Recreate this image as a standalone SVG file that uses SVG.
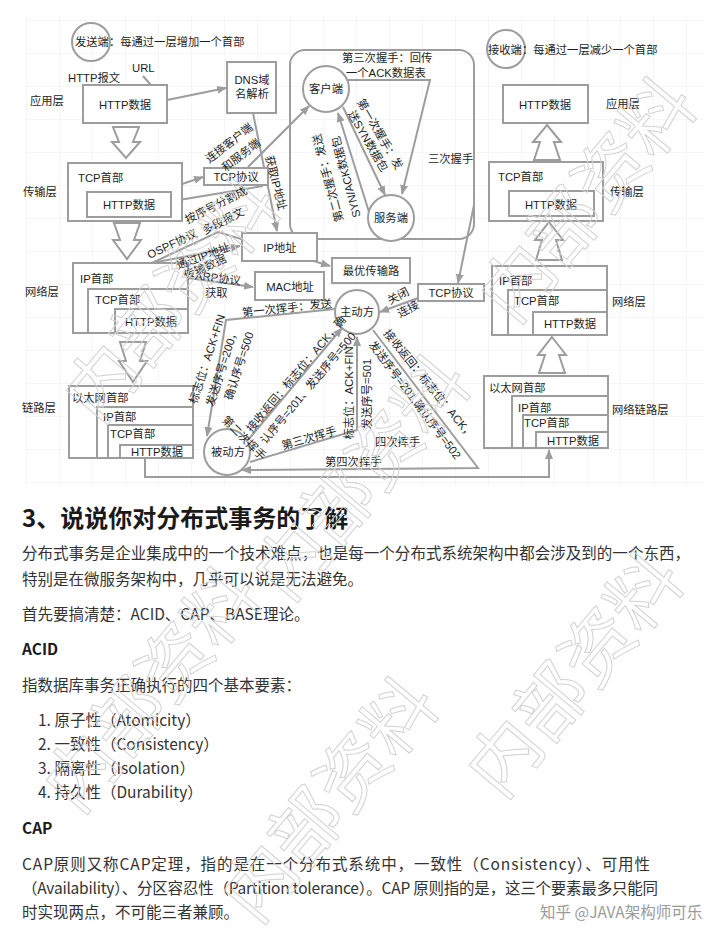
<svg xmlns="http://www.w3.org/2000/svg" width="720" height="941" viewBox="0 0 720 941">
<defs>
<style>
.t{font-family:"Liberation Sans","Noto Sans CJK SC",sans-serif;font-size:11.3px;fill:#1e1e1e}
.box{fill:#fff;stroke:#9d9d9d;stroke-width:2}
.c{fill:none;stroke:#9d9d9d;stroke-width:2}
.ha{fill:#fff;stroke:#9d9d9d;stroke-width:2;stroke-linejoin:miter}
.p{font-family:"Noto Sans CJK SC","Liberation Sans",sans-serif;font-size:15.5px;fill:#333}
.b{font-weight:bold;fill:#1a1a1a}
.wm{font-family:"Noto Sans CJK SC",sans-serif;font-size:72px;fill:none;stroke:#d2d2d2;stroke-width:1}
</style>
<marker id="ah" viewBox="0 0 10 8" refX="9" refY="4" markerWidth="10" markerHeight="8" markerUnits="userSpaceOnUse" orient="auto"><path d="M0,0 L10,4 L0,8 z" fill="#9d9d9d"/></marker>
<pattern id="grid" width="33" height="33" patternUnits="userSpaceOnUse" x="26" y="20"><path d="M33 0 L0 0 0 33" fill="none" stroke="#ededed" stroke-width="1"/></pattern>
</defs>
<rect width="720" height="941" fill="#fff"/>
<rect x="25" y="15" width="680" height="470" fill="url(#grid)"/>

<g id="connectors">
<rect class="c" x="290" y="50" width="184" height="189" rx="15"/>
<polygon class="ha" points="113,127 139,127 133,142 140,142 126,158 112,142 119,142"/>
<polygon class="ha" points="114,223 140,223 134,240 141,240 127,259 113,240 120,240"/>
<polygon class="ha" points="120,342 146,342 140,361 147,361 133,382 119,361 126,361"/>
<polygon class="ha" points="547,125 561,142 554,142 560,160 534,160 540,142 533,142"/>
<polygon class="ha" points="549,222 563,240 556,240 562,260 536,260 542,240 535,240"/>
<polygon class="ha" points="552,337 566,355 559,355 565,373 539,373 545,355 538,355"/>
<path class="c" marker-end="url(#ah)" d="M143 76 L164 100"/>
<path class="c" marker-end="url(#ah)" d="M167 100 L226 88"/>
<path class="c" marker-end="url(#ah)" d="M253 113 L277 231"/>
<path class="c" marker-end="url(#ah)" d="M182 184 L203 177"/>
<path class="c" marker-end="url(#ah)" d="M263 186 L173 201"/>
<path class="c" marker-end="url(#ah)" d="M248 167 L309 106"/>
<path class="c" marker-end="url(#ah)" d="M348 80 L430 80 L402 194"/>
<path class="c" marker-end="url(#ah)" d="M343 107 L385 195"/>
<path class="c" marker-end="url(#ah)" d="M369 212 L338 113"/>
<path class="c" marker-end="url(#ah)" d="M152 263 L218 232 L330 266"/>
<path class="c" marker-end="url(#ah)" d="M152 263 L240 246"/>
<path class="c" marker-end="url(#ah)" d="M188 278 L253 287"/>
<path class="c" marker-end="url(#ah)" d="M474 205 L458 283"/>
<path class="c" marker-end="url(#ah)" d="M418 298 L380 312"/>
<path class="c" marker-end="url(#ah)" d="M335 309 L226 320 L207 436"/>
<path class="c" marker-end="url(#ah)" d="M248 440 L342 328"/>
<path class="c" marker-end="url(#ah)" d="M250 462 L357 430 L357 337"/>
<path class="c" marker-end="url(#ah)" d="M373 330 L478 468 L242 470"/>
<path class="c" marker-end="url(#ah)" d="M145 458 L145 477 L549 477 L549 450"/>
</g>

<g id="sender"><circle cx="91" cy="42" r="19" fill="none" stroke="#9d9d9d" stroke-width="2"/><text class="t" x="75" y="46">发送端：每通过一层增加一个首部</text></g>
<g id="receiver"><circle cx="506" cy="49" r="19" fill="none" stroke="#9d9d9d" stroke-width="2"/><text class="t" x="488" y="54">接收端：每通过一层减少一个首部</text></g>

<g id="labels-left">
<text class="t" x="68" y="82">HTTP报文</text>
<text class="t" x="132" y="72">URL</text>
<text class="t" x="30" y="105">应用层</text>
<text class="t" x="23" y="196">传输层</text>
<text class="t" x="25" y="296">网络层</text>
<text class="t" x="22" y="412">链路层</text>
</g>

<g id="l-app"><rect class="box" x="83" y="85" width="84" height="38"/><text class="t" x="125" y="109" text-anchor="middle">HTTP数据</text></g>
<g id="l-tcp"><rect class="box" x="68" y="163" width="114" height="58"/><text class="t" x="78" y="182">TCP首部</text><rect class="box" x="87" y="192" width="84" height="25"/><text class="t" x="129" y="209" text-anchor="middle">HTTP数据</text></g>
<g id="l-ip"><rect class="box" x="73" y="263" width="115" height="70"/><text class="t" x="80" y="283">IP首部</text><rect class="box" x="88" y="289" width="100" height="44"/><text class="t" x="95" y="304">TCP首部</text><rect class="box" x="115" y="309" width="73" height="24"/><text class="t" x="151" y="326" text-anchor="middle">HTTP数据</text></g>
<g id="l-eth"><rect class="box" x="69" y="386" width="124" height="72"/><text class="t" x="72" y="402">以太网首部</text><rect class="box" x="97" y="407" width="96" height="51"/><text class="t" x="103" y="421">IP首部</text><rect class="box" x="108" y="425" width="85" height="33"/><text class="t" x="110" y="438">TCP首部</text><rect class="box" x="120" y="445" width="73" height="13"/><text class="t" x="131" y="456">HTTP数据</text></g>

<g id="r-app"><rect class="box" x="503" y="85" width="85" height="38"/><text class="t" x="545" y="109" text-anchor="middle">HTTP数据</text><text class="t" x="606" y="108">应用层</text></g>
<g id="r-tcp"><rect class="box" x="489" y="162" width="114" height="59"/><text class="t" x="498" y="181">TCP首部</text><rect class="box" x="509" y="191" width="85" height="25"/><text class="t" x="551" y="209" text-anchor="middle">HTTP数据</text><text class="t" x="610" y="196">传输层</text></g>
<g id="r-ip"><rect class="box" x="492" y="266" width="115" height="69"/><text class="t" x="499" y="285">IP首部</text><rect class="box" x="508" y="290" width="99" height="45"/><text class="t" x="514" y="305">TCP首部</text><rect class="box" x="533" y="312" width="74" height="23"/><text class="t" x="570" y="328" text-anchor="middle">HTTP数据</text><text class="t" x="612" y="306">网络层</text></g>
<g id="r-eth"><rect class="box" x="484" y="376" width="124" height="72"/><text class="t" x="489" y="392">以太网首部</text><rect class="box" x="512" y="396" width="96" height="52"/><text class="t" x="518" y="412">IP首部</text><rect class="box" x="523" y="415" width="85" height="33"/><text class="t" x="524" y="427">TCP首部</text><rect class="box" x="536" y="432" width="72" height="16"/><text class="t" x="547" y="445">HTTP数据</text><text class="t" x="612" y="414">网络链路层</text></g>

<g id="dns"><rect class="box" x="227" y="62" width="49" height="51"/><text class="t" x="252" y="84" text-anchor="middle">DNS域</text><text class="t" x="252" y="98" text-anchor="middle">名解析</text></g>
<g id="tcp-proto-l"><rect class="box" x="204" y="168" width="64" height="17"/><text class="t" x="236" y="181" text-anchor="middle">TCP协议</text></g>
<g id="ip-addr"><rect class="box" x="242" y="233" width="75" height="28"/><text class="t" x="280" y="252" text-anchor="middle">IP地址</text></g>
<g id="mac"><rect class="box" x="255" y="272" width="69" height="28"/><text class="t" x="290" y="291" text-anchor="middle">MAC地址</text></g>
<g id="route"><rect class="box" x="332" y="258" width="78" height="25"/><text class="t" x="371" y="275" text-anchor="middle">最优传输路</text></g>
<g id="tcp-proto-r"><rect class="box" x="418" y="284" width="66" height="17"/><text class="t" x="451" y="297" text-anchor="middle">TCP协议</text></g>
<g id="client"><circle cx="326" cy="89" r="23" fill="#fff" stroke="#9d9d9d" stroke-width="2"/><text class="t" x="326" y="93" text-anchor="middle">客户端</text></g>
<g id="server"><circle cx="391" cy="218" r="23" fill="#fff" stroke="#9d9d9d" stroke-width="2"/><text class="t" x="391" y="222" text-anchor="middle">服务端</text></g>
<g id="active"><circle cx="357" cy="312" r="22" fill="#fff" stroke="#9d9d9d" stroke-width="2"/><text class="t" x="357" y="316" text-anchor="middle">主动方</text></g>
<g id="passive"><circle cx="227" cy="452" r="23" fill="#fff" stroke="#9d9d9d" stroke-width="2"/><text class="t" x="228" y="456" text-anchor="middle">被动方</text></g>

<g id="edge-labels">
<text class="t" x="342" y="62">第三次握手：回传</text>
<text class="t" x="346" y="77">一个ACK数据表</text>
<text class="t" x="428" y="163">三次握手</text>
<text class="t" text-anchor="middle" transform="translate(380 134) rotate(60)" y="4">第一次握手：发</text>
<text class="t" text-anchor="middle" transform="translate(368 141) rotate(60)" y="4">送SYN数据包</text>
<text class="t" text-anchor="middle" transform="translate(328 178) rotate(-105)" y="4">第二次握手：发送</text>
<text class="t" text-anchor="middle" transform="translate(346 177) rotate(-105)" y="4">SYN/ACK数据包</text>
<text class="t" text-anchor="middle" transform="translate(276 183) rotate(76)" y="4">获取IP地址</text>
<text class="t" text-anchor="middle" transform="translate(229 143) rotate(-38)" y="4">连接客户端</text>
<text class="t" text-anchor="middle" transform="translate(241 155) rotate(-38)" y="4">和服务端</text>
<text class="t" text-anchor="middle" transform="translate(216 205) rotate(-27)" y="4">按序号分割成</text>
<text class="t" text-anchor="middle" transform="translate(223 221) rotate(-27)" y="4">多段报文</text>
<text class="t" text-anchor="middle" transform="translate(172 244) rotate(-25)" y="4">OSPF协议</text>
<text class="t" text-anchor="middle" transform="translate(203 256) rotate(-20)" y="4">通过IP地址</text>
<text class="t" text-anchor="middle" transform="translate(205 267) rotate(-24)" y="4">传输数据</text>
<text class="t" text-anchor="middle" transform="translate(218 278) rotate(7)" y="4">ARP协议</text>
<text class="t" x="205" y="297">获取</text>
<text class="t" text-anchor="middle" transform="translate(398 296) rotate(-28)" y="4">关闭</text>
<text class="t" text-anchor="middle" transform="translate(408 309) rotate(-28)" y="4">连接</text>
<text class="t" text-anchor="middle" transform="translate(287 308) rotate(-6)" y="4">第一次挥手：发送</text>
<text class="t" text-anchor="middle" transform="translate(207 359) rotate(-72)" y="4">标志位：ACK+FIN</text>
<text class="t" text-anchor="middle" transform="translate(222 367) rotate(-72)" y="4">发送序号=200，</text>
<text class="t" text-anchor="middle" transform="translate(239 366) rotate(-72)" y="4">确认序号=500</text>
<text class="t" text-anchor="middle" transform="translate(244 438) rotate(45)" y="4">第二次挥手</text>
<text class="t" text-anchor="middle" transform="translate(296 374) rotate(-50)" y="4">接收返回：标志位：ACK，确</text>
<text class="t" text-anchor="middle" transform="translate(308 388) rotate(-50)" y="4">认序号=201、发送序号=500</text>
<text class="t" text-anchor="middle" transform="translate(309 438) rotate(-16)" y="4">第三次挥手</text>
<text class="t" text-anchor="middle" transform="translate(349 393) rotate(-90)" y="4">标志位：ACK+FIN</text>
<text class="t" text-anchor="middle" transform="translate(367 394) rotate(-90)" y="4">发送序号=501</text>
<text class="t" text-anchor="middle" transform="translate(429 384) rotate(51)" y="4">接收返回：标志位：ACK，</text>
<text class="t" text-anchor="middle" transform="translate(415 400) rotate(53)" y="4">发送序号=201,确认序号=502</text>
<text class="t" x="375" y="446">四次挥手</text>
<text class="t" x="325" y="466">第四次挥手</text>
</g>

<g id="article">
<text class="p b" x="22" y="527" style="font-size:24px">3、说说你对分布式事务的了解</text>
<text class="p" x="22" y="559" textLength="668" lengthAdjust="spacing">分布式事务是企业集成中的一个技术难点，也是每一个分布式系统架构中都会涉及到的一个东西，</text>
<text class="p" x="22" y="585">特别是在微服务架构中，几乎可以说是无法避免。</text>
<text class="p" x="22" y="620">首先要搞清楚：ACID、CAP、BASE理论。</text>
<text class="p b" x="22" y="655">ACID</text>
<text class="p" x="22" y="691">指数据库事务正确执行的四个基本要素：</text>
<text class="p" x="38" y="726">1. 原子性（Atomicity）</text>
<text class="p" x="38" y="750">2. 一致性（Consistency）</text>
<text class="p" x="38" y="774">3. 隔离性（Isolation）</text>
<text class="p" x="38" y="798">4. 持久性（Durability）</text>
<text class="p b" x="22" y="834">CAP</text>
<text class="p" x="22" y="870" textLength="628" lengthAdjust="spacing">CAP原则又称CAP定理，指的是在一个分布式系统中，一致性（Consistency）、可用性</text>
<text class="p" x="22" y="894" textLength="636" lengthAdjust="spacing">（Availability）、分区容忍性（Partition tolerance）。CAP 原则指的是，这三个要素最多只能同</text>
<text class="p" x="22" y="918">时实现两点，不可能三者兼顾。</text>
<text class="p" x="540" y="918" style="fill:#9a9a9a">知乎 @JAVA架构师可乐</text>
</g>

<g id="watermark">
<text class="wm" text-anchor="middle" transform="translate(588 200) rotate(-50)" y="25">内部资料</text>
<text class="wm" text-anchor="middle" transform="translate(172 300) rotate(-50)" y="25">内部资料</text>
<text class="wm" text-anchor="middle" transform="translate(362 478) rotate(-50)" y="25">内部资料</text>
<text class="wm" text-anchor="middle" transform="translate(152 690) rotate(-50)" y="25">内部资料</text>
<text class="wm" text-anchor="middle" transform="translate(575 675) rotate(-50)" y="25">内部资料</text>
<text class="wm" text-anchor="middle" transform="translate(330 800) rotate(-50)" y="25">内部资料</text>
</g>
</svg>
